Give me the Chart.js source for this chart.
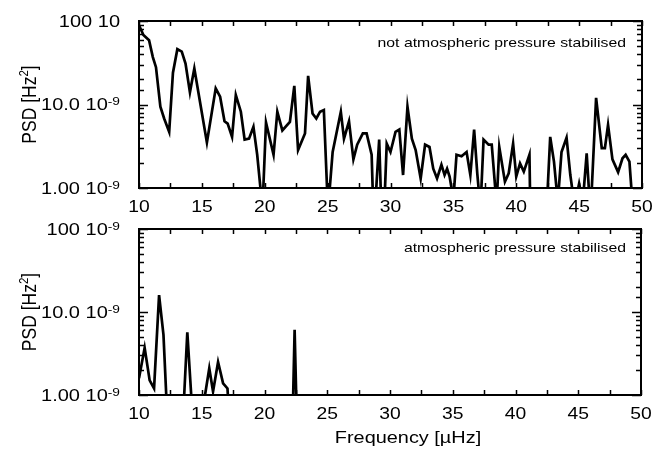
<!DOCTYPE html>
<html>
<head>
<meta charset="utf-8">
<script src="https://cdn.jsdelivr.net/npm/chart.js@4.4.0/dist/chart.umd.min.js"></script>
<style>
  html, body { margin: 0; padding: 0; background: #fff; }
  .panel { position: absolute; left: 0; width: 666px; }
  #top { top: 0; height: 215px; }
  #bottom { top: 215px; height: 235px; }
</style>
</head>
<body>
<div class="panel" id="top"><canvas id="topChart"></canvas></div>
<div class="panel" id="bottom"><canvas id="bottomChart"></canvas></div>
<script>
// valeur sous l'axe (1e-9) : la courbe plonge hors du cadre
var UNDER = 8e-10;

// spectre non stabilisé (fréquence en µHz, PSD en Hz²)
var freqTop = [10.0, 10.35, 10.8, 11.1, 11.35, 11.7, 12.0, 12.4, 12.7, 13.05, 13.4, 13.7, 14.05, 14.4,
  15.4, 16.1, 16.45, 16.8, 17.05, 17.4, 17.7, 18.1, 18.4, 18.75, 19.1, 19.4, 19.72, 19.86, 20.1, 20.7,
  21.0, 21.4, 22.0, 22.35, 22.65, 23.2, 23.45, 23.8, 24.1, 24.4, 24.7, 24.98, 25.12, 25.4, 26.05, 26.3,
  26.7, 27.05, 27.35, 27.8, 28.1, 28.5, 28.6, 28.83, 29.1, 29.24, 29.54, 29.7, 30.0, 30.4, 30.7, 31.0,
  31.35, 31.7, 32.0, 32.4, 32.75, 33.1, 33.4, 33.7, 34.05, 34.3, 34.5, 34.7, 34.96, 35.02, 35.25, 35.65,
  36.05, 36.35, 36.65, 36.9, 37.06, 37.2, 37.4, 37.8, 38.05, 38.38, 38.47, 38.65, 39.1, 39.4, 39.75, 40.0,
  40.3, 40.6, 41.05, 41.1, 42.47, 42.7, 43.0, 43.26, 43.34, 43.6, 44.0, 44.3, 44.53, 44.8, 45.0, 45.2,
  45.33, 45.6, 45.81, 45.98, 46.35, 46.8, 47.05, 47.3, 47.65, 48.1, 48.45, 48.7, 49.0, 49.2, 50.0];
var psdTop = [8.9e-8, 6.8e-8, 5.9e-8, 3.7e-8, 2.8e-8, 9.4e-9, 6.8e-9, 4.7e-9, 2.4e-8, 4.6e-8, 4.3e-8, 3.1e-8, 1.4e-8, 2.7e-8,
  3.5e-9, 1.56e-8, 1.24e-8, 6.3e-9, 5.9e-9, 4.1e-9, 1.3e-8, 8.2e-9, 3.8e-9, 3.9e-9, 5.4e-9, 2.5e-9, UNDER, UNDER, 6.1e-9, 2.5e-9,
  8.2e-9, 4.9e-9, 6.2e-9, 1.67e-8, 2.85e-9, 4.5e-9, 2.2e-8, 7.8e-9, 6.8e-9, 8.2e-9, 8.6e-9, UNDER, UNDER, 2.7e-9, 8.2e-9, 3.9e-9,
  6.3e-9, 2.2e-9, 3.3e-9, 4.5e-9, 4.5e-9, 2.5e-9, UNDER, UNDER, 3.8e-9, UNDER, UNDER, 3.4e-9, 2.7e-9, 4.7e-9, 5.0e-9, 1.43e-9,
  9.4e-9, 3.9e-9, 2.85e-9, 1.3e-9, 3.3e-9, 3.1e-9, 1.7e-9, 1.3e-9, 1.9e-9, 1.43e-9, 1.7e-9, 1.37e-9, UNDER, UNDER, 2.5e-9, 2.4e-9,
  2.7e-9, 1.43e-9, 5.0e-9, 1.5e-9, UNDER, UNDER, 3.8e-9, 3.3e-9, 3.3e-9, UNDER, UNDER, 3.1e-9, 1.19e-9, 1.5e-9, 3.4e-9, 1.37e-9,
  1.97e-9, 1.57e-9, 2.5e-9, UNDER, UNDER, 4.1e-9, 2.07e-9, UNDER, UNDER, 2.7e-9, 4.0e-9, 1.43e-9, UNDER, UNDER, 1.13e-9, UNDER,
  UNDER, 2.6e-9, UNDER, UNDER, 1.2e-8, 3.0e-9, 3.0e-9, 5.7e-9, 2.2e-9, 1.55e-9, 2.27e-9, 2.5e-9, 2.07e-9, UNDER, UNDER];

// spectre stabilisé
var freqBottom = [10.0, 10.45, 10.85, 11.2, 11.6, 11.95, 12.2, 13.57, 13.85, 14.2, 15.16, 15.6, 15.9, 16.3,
  16.7, 17.05, 17.12, 22.27, 22.4, 22.54, 50.0];
var psdBottom = [1.59e-9, 3.7e-9, 1.5e-9, 1.2e-9, 1.6e-8, 5.3e-9, UNDER, UNDER, 5.7e-9, UNDER, UNDER, 2.1e-9, 1.1e-9, 2.5e-9,
  1.38e-9, 1.2e-9, UNDER, UNDER, 6.1e-9, UNDER, UNDER];

// étiquettes des axes
var yTickMain = ['1.00 10', '10.0 10', '100 10'];
var yTickSupTop = ['-9', '-9', ''];
var yTickSupBottom = ['-9', '-9', '-9'];
var xLabelStep = 5;

var SX = 1.17; // la figure d'origine est étirée horizontalement
var FONT = '"Liberation Sans", Arial, sans-serif';

function txt(ctx, s, x, y, size, align, sx) {
  ctx.save();
  ctx.font = size + 'px ' + FONT;
  ctx.textAlign = align;
  ctx.textBaseline = 'alphabetic';
  ctx.translate(x, y);
  ctx.scale(sx || SX, 1);
  ctx.fillText(s, 0, 0);
  ctx.restore();
}
function txtWidth(ctx, s, size, sx) {
  ctx.font = size + 'px ' + FONT;
  return ctx.measureText(s).width * (sx || SX);
}

var framePlugin = {
  id: 'frame',
  afterDraw: function (chart, args, opts) {
    var ctx = chart.ctx, a = chart.chartArea;
    var xs = chart.scales.x, ys = chart.scales.y;
    ctx.save();
    ctx.strokeStyle = '#000';
    ctx.fillStyle = '#000';
    ctx.lineWidth = 1.5;
    ctx.beginPath();
    xs.ticks.forEach(function (t) {
      var px = Math.round(xs.getPixelForValue(t.value)) + 0.5;
      ctx.moveTo(px, a.bottom); ctx.lineTo(px, a.bottom - 5);
      ctx.moveTo(px, a.top); ctx.lineTo(px, a.top + 5);
    });
    ys.ticks.forEach(function (t) {
      var lg = Math.log10(t.value);
      var major = Math.abs(lg - Math.round(lg)) < 1e-6;
      var len = major ? 9 : 5;
      var py = Math.round(ys.getPixelForValue(t.value)) + 0.5;
      ctx.moveTo(a.left, py); ctx.lineTo(a.left + len, py);
      ctx.moveTo(a.right, py); ctx.lineTo(a.right - len, py);
    });
    ctx.stroke();
    ctx.lineWidth = 2;
    ctx.strokeRect(a.left, a.top, a.right - a.left, a.bottom - a.top);

    // graduations x
    xs.ticks.forEach(function (t) {
      if (Math.abs(t.value % xLabelStep) > 1e-6) return;
      txt(ctx, String(t.value), xs.getPixelForValue(t.value), a.bottom + 24, 16.5, 'center');
    });
    // graduations y
    ys.ticks.forEach(function (t) {
      var lg = Math.log10(t.value);
      if (Math.abs(lg - Math.round(lg)) > 1e-6) return;
      var i = Math.round(lg) + 9;
      var py = ys.getPixelForValue(t.value);
      var sup = opts.sup[i];
      var right = 120;
      var ws = sup ? txtWidth(ctx, sup, 11, 1.25) : 0;
      txt(ctx, yTickMain[i], right - ws, py + 5.5, 16, 'right', 1.25);
      if (sup) txt(ctx, sup, right - ws, py + 0.5, 11, 'left', 1.25);
    });

    // titre y : PSD [Hz²]
    var cy = (a.top + a.bottom) / 2;
    ctx.save();
    ctx.translate(36, cy);
    ctx.scale(SX, 1);
    ctx.rotate(-Math.PI / 2);
    ctx.textBaseline = 'alphabetic';
    ctx.textAlign = 'left';
    ctx.font = '17.5px ' + FONT;
    var p1 = 'PSD [Hz', p3 = ']';
    var w1 = ctx.measureText(p1).width, w3 = ctx.measureText(p3).width;
    ctx.font = '11.5px ' + FONT;
    var w2 = ctx.measureText('2').width;
    var x0 = -(w1 + w2 + w3) / 2;
    ctx.font = '17.5px ' + FONT;
    ctx.fillText(p1, x0, 0);
    ctx.fillText(p3, x0 + w1 + w2, 0);
    ctx.font = '11.5px ' + FONT;
    ctx.fillText('2', x0 + w1, -7);
    ctx.restore();

    // légende de panneau
    txt(ctx, opts.note, 626, a.top + opts.noteDy, 13.5, 'right');
    if (opts.xTitle) {
      txt(ctx, opts.xTitle, 408, a.bottom + 48, 17, 'center');
    }
    ctx.restore();
  }
};

function makeChart(id, freq, psd, pad, xHeight, opts) {
  return new Chart(document.getElementById(id), {
    type: 'line',
    data: {
      datasets: [{
        data: freq.map(function (f, i) { return { x: f, y: psd[i] }; }),
        borderColor: '#000',
        borderWidth: 2.7,
        pointRadius: 0,
        tension: 0,
        fill: false
      }]
    },
    options: {
      responsive: true,
      maintainAspectRatio: false,
      animation: false,
      events: [],
      layout: { padding: pad },
      plugins: { legend: { display: false }, tooltip: { enabled: false }, frame: opts },
      scales: {
        x: {
          type: 'linear', min: 10, max: 50,
          ticks: { stepSize: 2.5, display: false },
          grid: { display: false }, border: { display: false },
          afterFit: function (s) { s.height = xHeight; }
        },
        y: {
          type: 'logarithmic', min: 1e-9, max: 1e-7,
          ticks: { display: false, autoSkip: false },
          grid: { display: false }, border: { display: false },
          afterFit: function (s) { s.width = 139; }
        }
      }
    },
    plugins: [framePlugin]
  });
}

makeChart('topChart', freqTop, psdTop, { left: 0, right: 24, top: 21, bottom: 0 }, 27,
  { sup: yTickSupTop, note: 'not atmospheric pressure stabilised', noteDy: 26 });
makeChart('bottomChart', freqBottom, psdBottom, { left: 0, right: 25, top: 14, bottom: 0 }, 55,
  { sup: yTickSupBottom, note: 'atmospheric pressure stabilised', noteDy: 23, xTitle: 'Frequency [µHz]' });
</script>
</body>
</html>
